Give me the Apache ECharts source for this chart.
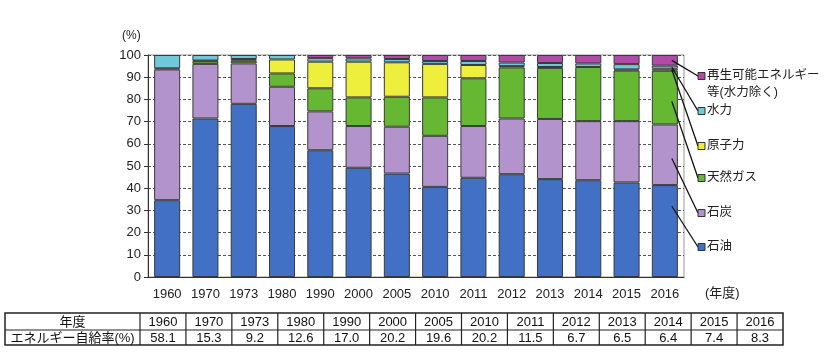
<!DOCTYPE html>
<html><head><meta charset="utf-8">
<script src="https://cdn.jsdelivr.net/npm/echarts@6/dist/echarts.min.js"></script>
<style>html,body{margin:0;padding:0;background:#fff}#c{width:830px;height:356px}</style>
</head><body><div id="c"></div>
<script>
// ---- data ----
const years = ['1960','1970','1973','1980','1990','2000','2005','2010','2011','2012','2013','2014','2015','2016'];
const oil       = [34.6, 71.4, 78.0, 68.0, 57.1, 49.2, 46.6, 40.6, 44.7, 46.3, 44.1, 43.6, 42.6, 41.4];
const coal      = [58.9, 24.6, 18.2, 17.7, 17.5, 18.8, 21.1, 23.0, 23.3, 25.1, 27.1, 26.6, 27.6, 27.3];
const gas       = [0.5,  1.2,  1.2,  6.0,  10.4, 12.9, 13.5, 17.3, 21.5, 23.0, 23.0, 24.4, 22.8, 24.2];
const nuclear   = [0,    0.3,  0.8,  6.3,  12.0, 16.1, 15.5, 15.1, 6.0,  0.6,  0.4,  0,    0.5,  0.9];
const hydro     = [6.0,  2.5,  1.8,  2.0,  1.6,  1.5,  1.5,  1.3,  1.8,  1.6,  1.8,  1.6,  2.4,  1.4];
const renewable = [0,    0,    0,    0,    1.4,  1.5,  1.8,  2.7,  2.7,  3.4,  3.6,  3.8,  4.1,  4.8];
const selfSufficiency = ['58.1','15.3','9.2','12.6','17.0','20.2','19.6','20.2','11.5','6.7','6.5','6.4','7.4','8.3'];
const seriesNames = ['石油','石炭','天然ガス','原子力','水力','再生可能エネルギー等(水力除く)'];
const legendLabels = ['石油','石炭','天然ガス','原子力','水力','再生可能エネルギー\n等(水力除く)'];
const tableHeader = ['年度','エネルギー自給率(%)'];
const yUnit = '(%)';
const xUnit = '(年度)';

// ---- styles ----
const FONT = "'Liberation Sans', 'Noto Sans CJK JP', sans-serif";
const colors = ['#4170c4','#b393cc','#66b832','#eeee3c','#70c9d8','#b04ca8'];
const allSeries = [oil, coal, gas, nuclear, hydro, renewable];

const chart = echarts.init(document.getElementById('c'), null, {renderer:'canvas'});

const option = {
  animation:false,
  textStyle:{fontFamily:FONT},
  grid:{left:148, right:146, top:55, bottom:79, show:true, borderColor:'#999', borderWidth:1, backgroundColor:'transparent'},
  xAxis:{
    type:'category', data:years,
    axisLine:{lineStyle:{color:'#333', width:1}},
    axisTick:{inside:true, length:3, lineStyle:{color:'#333'}},
    axisLabel:{fontSize:13, color:'#222', margin:11, fontFamily:FONT}
  },
  yAxis:{
    type:'value', min:0, max:100, interval:10,
    axisLine:{show:true, lineStyle:{color:'#333', width:1}},
    axisTick:{show:true, length:4, lineStyle:{color:'#333'}},
    axisLabel:{fontSize:13, color:'#222', margin:7, fontFamily:FONT},
    splitLine:{show:true, lineStyle:{color:'#555', type:[3,2], width:1}}
  },
  series: allSeries.map((arr,i)=>({
    name:seriesNames[i], type:'bar', stack:'total', barWidth:'68%',
    itemStyle:{color:colors[i], borderColor:'#3a3a3a', borderWidth:1},
    data:arr.map(v=> v===0 ? '-' : v)
  }))
};
chart.setOption(option);

// ---- annotations: legend, leader lines, table ----
const g = [];
g.push({type:'text', left:122, top:30, style:{text:yUnit, fontSize:12, fill:'#222', fontFamily:FONT}});
g.push({type:'text', x:705, y:293, style:{text:xUnit, fontSize:13, fill:'#222', fontFamily:FONT, verticalAlign:'middle'}});

const legendRowsY = [247, 213, 178, 146, 111, 76]; // oil..renewable
const last = years.length - 1;
const fracs = [0.77, 0.44, 0.43, 0.5, 0.5, 0.5];
let cum = 0;
allSeries.forEach((arr,i)=>{
  const y = legendRowsY[i];
  const base = cum; const seg = arr[last]; cum += seg;
  const anchorVal = base + seg*fracs[i];
  const p = chart.convertToPixel({gridIndex:0}, [years[last], anchorVal]);
  g.push({type:'line', shape:{x1:p[0]+7, y1:p[1], x2:698, y2:y}, style:{stroke:'#111', lineWidth:1.3}, z:10});
  g.push({type:'rect', shape:{x:698, y:y-3.5, width:7, height:7}, style:{fill:colors[i], stroke:'#333', lineWidth:1}, z:11});
  const multi = legendLabels[i].indexOf('\n')>=0;
  g.push({type:'text', x:707, y: multi ? y-8.5 : y, style:{text:legendLabels[i], fontSize:12.5, lineHeight:17, fill:'#222', fontFamily:FONT, verticalAlign: multi?'top':'middle'}});
});

// table
const tx0 = 5, tx1 = 140, tx2 = 783, ty0 = 313, ty1 = 330, ty2 = 345;
const colW = (tx2 - tx1) / years.length;
g.push({type:'rect', shape:{x:tx0, y:ty0, width:tx2-tx0, height:ty2-ty0}, style:{fill:'none', stroke:'#222', lineWidth:1.5}});
g.push({type:'line', shape:{x1:tx0, y1:ty1, x2:tx2, y2:ty1}, style:{stroke:'#222', lineWidth:1}});
for (let i=0;i<years.length;i++){
  const x = tx1 + i*colW;
  g.push({type:'line', shape:{x1:x, y1:ty0, x2:x, y2:ty2}, style:{stroke:'#222', lineWidth:1.2}});
  g.push({type:'text', x:x+colW/2, y:(ty0+ty1)/2+0.5, style:{text:years[i], fontSize:13, fill:'#111', fontFamily:FONT, align:'center', verticalAlign:'middle'}});
  g.push({type:'text', x:x+colW/2, y:(ty1+ty2)/2+0.5, style:{text:selfSufficiency[i], fontSize:13, fill:'#111', fontFamily:FONT, align:'center', verticalAlign:'middle'}});
}
g.push({type:'text', x:(tx0+tx1)/2, y:(ty0+ty1)/2+0.5, style:{text:tableHeader[0], fontSize:13, fill:'#111', fontFamily:FONT, align:'center', verticalAlign:'middle'}});
g.push({type:'text', x:(tx0+tx1)/2, y:(ty1+ty2)/2+0.5, style:{text:tableHeader[1], fontSize:13, fill:'#111', fontFamily:FONT, align:'center', verticalAlign:'middle'}});

chart.setOption({graphic:g});
</script>
</body></html>
